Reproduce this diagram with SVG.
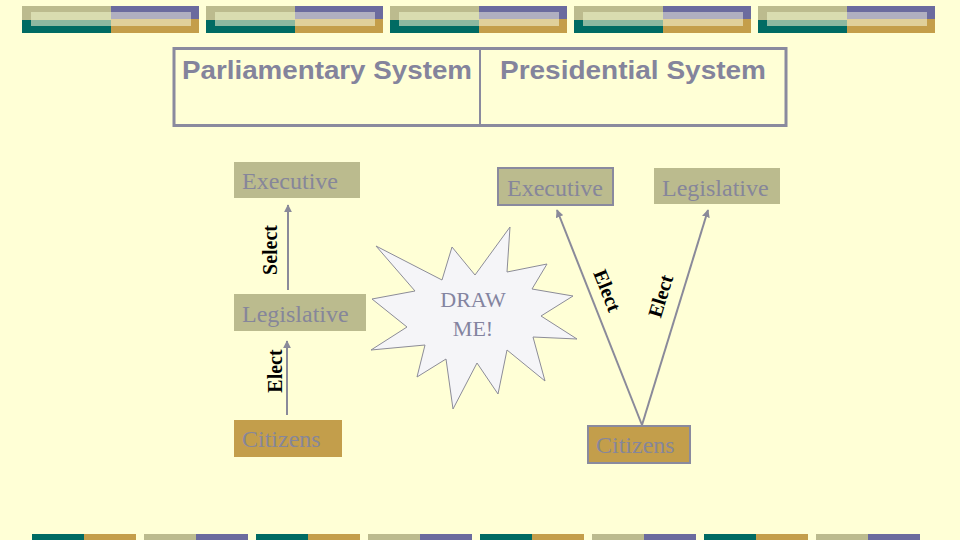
<svg xmlns="http://www.w3.org/2000/svg" width="960" height="540" viewBox="0 0 960 540">
<defs>
<style>
.olive{fill:#BCBB8E}.teal{fill:#006B63}.purp{fill:#6B6B9E}.gold{fill:#C49E4A}
.lt1{fill:#D9DCB0}.lt2{fill:#8DB8A0}.lt3{fill:#B0AFC0}.lt4{fill:#E0D09A}
.title{font-family:"Liberation Sans",Arial,sans-serif;font-weight:bold;font-size:25px;fill:#84849C}
.lbl{font-family:"Liberation Serif","Times New Roman",serif;font-size:24px;fill:#86869A}
.edge{font-family:"Liberation Serif","Times New Roman",serif;font-weight:bold;font-size:20px;fill:#000}
.conn{stroke:#8A8A9A;stroke-width:2;fill:none;marker-end:url(#ah)}
</style>
<marker id="ah" viewBox="0 0 10 10" refX="9" refY="5" markerWidth="4" markerHeight="4" orient="auto">
<path d="M0,0 L10,5 L0,10 z" fill="#8A8A9A"/>
</marker>
<g id="bar">
<rect x="0" y="6" width="89" height="14" class="olive"/>
<rect x="0" y="20" width="89" height="13" class="teal"/>
<rect x="89" y="6" width="88" height="13" class="purp"/>
<rect x="89" y="19" width="88" height="14" class="gold"/>
<rect x="9" y="12" width="80" height="8" class="lt1"/>
<rect x="9" y="20" width="80" height="6" class="lt2"/>
<rect x="89" y="12" width="80" height="7" class="lt3"/>
<rect x="89" y="19" width="80" height="7" class="lt4"/>
</g>
<g id="bbar">
<rect x="0" y="534" width="52" height="6" class="teal"/>
<rect x="52" y="534" width="52" height="6" class="gold"/>
<rect x="112" y="534" width="52" height="6" class="olive"/>
<rect x="164" y="534" width="52" height="6" class="purp"/>
</g>
</defs>
<rect width="960" height="540" fill="#FFFFD6"/>
<g id="header-bars">
<use href="#bar" x="22"/><use href="#bar" x="206"/><use href="#bar" x="390"/><use href="#bar" x="574"/><use href="#bar" x="758"/>
</g>
<g id="footer-bars">
<use href="#bbar" x="32"/><use href="#bbar" x="256"/><use href="#bbar" x="480"/><use href="#bbar" x="704"/>
</g>
<g id="header-box">
<rect x="174" y="48.5" width="612" height="77" fill="none" stroke="#8A8A9E" stroke-width="3"/>
<line x1="480" y1="48.5" x2="480" y2="125.5" stroke="#8A8A9E" stroke-width="2"/>
<text class="title" x="182" y="79" textLength="290" lengthAdjust="spacingAndGlyphs">Parliamentary System</text>
<text class="title" x="500" y="79" textLength="266" lengthAdjust="spacingAndGlyphs">Presidential System</text>
</g>
<g id="connectors">
<line class="conn" x1="288" y1="290" x2="288" y2="205"/>
<line class="conn" x1="287" y1="415" x2="287" y2="341"/>
<line class="conn" x1="642" y1="425" x2="557" y2="210"/>
<line class="conn" x1="642" y1="425" x2="708" y2="210"/>
<text class="edge" transform="translate(277,250) rotate(-90)" text-anchor="middle">Select</text>
<text class="edge" transform="translate(282,371) rotate(-90)" text-anchor="middle">Elect</text>
<text class="edge" transform="translate(601,293) rotate(68)" text-anchor="middle">Elect</text>
<text class="edge" transform="translate(667,298) rotate(-73)" text-anchor="middle">Elect</text>
</g>
<g id="p-executive">
<rect x="234" y="162" width="126" height="36" fill="#BBBB8E"/>
<text class="lbl" x="242" y="189">Executive</text>
</g>
<g id="p-legislative">
<rect x="234" y="294" width="132" height="37" fill="#BBBB8E"/>
<text class="lbl" x="242" y="322">Legislative</text>
</g>
<g id="p-citizens">
<rect x="234" y="420" width="108" height="37" fill="#C39E4B"/>
<text class="lbl" x="242" y="447">Citizens</text>
</g>
<g id="draw-me">
<polygon points="510,227 507,272 547,264 532,289 573,296 541,316 577,339 533,337 545,381 507,350 498,394 477,363 453,409 446,359 417,377 425,345 371,350 407,327 372,299 415,291 376,246 442,280 452,247 475,275" fill="#F5F5F8" stroke="#8C8C98" stroke-width="1"/>
<text x="473" y="307" text-anchor="middle" font-family="'Liberation Serif','Times New Roman',serif" font-size="22" fill="#8484A0">DRAW</text>
<text x="473" y="336" text-anchor="middle" font-family="'Liberation Serif','Times New Roman',serif" font-size="22" fill="#8484A0">ME!</text>
</g>
<g id="r-executive">
<rect x="498" y="168" width="115" height="37" fill="#BBBB8E" stroke="#8A8A9E" stroke-width="2"/>
<text class="lbl" x="507" y="196">Executive</text>
</g>
<g id="r-legislative">
<rect x="654" y="168" width="126" height="36" fill="#BBBB8E"/>
<text class="lbl" x="662" y="196">Legislative</text>
</g>
<g id="r-citizens">
<rect x="588" y="426" width="102" height="37" fill="#C39E4B" stroke="#8A8A9E" stroke-width="2"/>
<text class="lbl" x="596" y="453">Citizens</text>
</g>
</svg>
